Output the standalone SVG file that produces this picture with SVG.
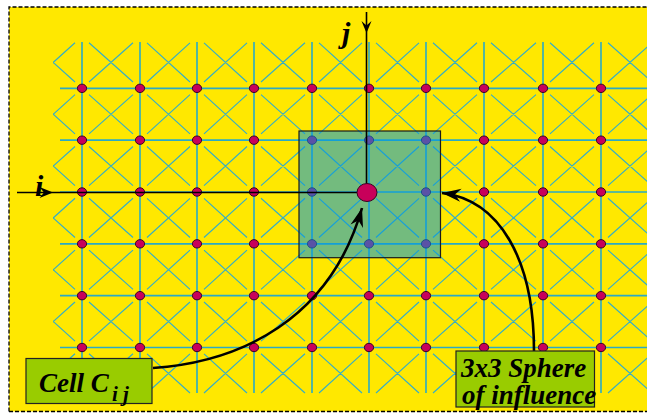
<svg xmlns="http://www.w3.org/2000/svg" width="647" height="415" viewBox="0 0 647 415">
<style>
.grid{stroke:#2BAAC6;stroke-width:1.6;fill:none}
.diag{stroke:#34ADC8;stroke-width:1.15;fill:none}
.dot{fill:#C8005A;stroke:#3A0020;stroke-width:1}
.axis{stroke:#000;stroke-width:1.6;fill:none}
.curve{stroke:#000;stroke-width:2.6;fill:none}
.box{fill:#99CC00;stroke:#222;stroke-width:1.2}
.lbl{font-family:"Liberation Serif","Times New Roman",serif;font-style:italic;font-weight:bold;fill:#000}
</style>
<defs>
<clipPath id="gclip"><rect x="53" y="0" width="600" height="415"/></clipPath>
<path id="xrow" class="diag" d="M31.5 6.3L75 45.5M31.5 45.5L75 6.3M89 6.3L133 45.5M89 45.5L133 6.3M147 6.3L190 45.5M147 45.5L190 6.3M204 6.3L247 45.5M204 45.5L247 6.3M261 6.3L305 45.5M261 45.5L305 6.3M319 6.3L362 45.5M319 45.5L362 6.3M376 6.3L419 45.5M376 45.5L419 6.3M433 6.3L477 45.5M433 45.5L477 6.3M491 6.3L536 45.5M491 45.5L536 6.3M550 6.3L594 45.5M550 45.5L594 6.3M608 6.3L652 45.5M608 45.5L652 6.3"/>
<g id="dotrow">
<ellipse class="dot" cx="82" cy="0" rx="4.6" ry="4.2"/>
<ellipse class="dot" cx="140" cy="0" rx="4.6" ry="4.2"/>
<ellipse class="dot" cx="197" cy="0" rx="4.6" ry="4.2"/>
<ellipse class="dot" cx="254" cy="0" rx="4.6" ry="4.2"/>
<ellipse class="dot" cx="312" cy="0" rx="4.6" ry="4.2"/>
<ellipse class="dot" cx="369" cy="0" rx="4.6" ry="4.2"/>
<ellipse class="dot" cx="426" cy="0" rx="4.6" ry="4.2"/>
<ellipse class="dot" cx="484" cy="0" rx="4.6" ry="4.2"/>
<ellipse class="dot" cx="543" cy="0" rx="4.6" ry="4.2"/>
<ellipse class="dot" cx="601" cy="0" rx="4.6" ry="4.2"/>
</g>
<marker id="ah" viewBox="-20 -8 22 16" refX="0" refY="0" markerWidth="22" markerHeight="16" orient="auto" markerUnits="userSpaceOnUse">
<path d="M0,0 L-19,-6.5 L-13,0 L-19,6.5 Z" fill="#000"/>
</marker>
</defs>
<rect width="647" height="415" fill="#FFFFFF"/>
<rect id="background" x="9" y="7" width="638" height="404.5" fill="#FFE800"/>
<path d="M9,411.5 V7 H647 M9,411.5 H647" stroke="#000" stroke-width="1.3" stroke-dasharray="4 2" fill="none"/>
<g id="grid">
<g clip-path="url(#gclip)">
<use href="#xrow" y="36.5"/>
<use href="#xrow" y="88.33"/>
<use href="#xrow" y="140.17"/>
<use href="#xrow" y="192"/>
<use href="#xrow" y="243.83"/>
<use href="#xrow" y="295.67"/>
<use href="#xrow" y="347.5"/>
</g>
<path class="grid" d="M82 42V393M140 42V393M197 42V393M254 42V393M312 42V393M369 42V393M426 42V393M484 42V393M543 42V393M601 42V393"/>
<path class="grid" d="M60 88.33H647M60 140.17H647M60 192H647M60 243.83H647M60 295.67H647M60 347.5H647"/>
</g>
<g id="cells">
<use href="#dotrow" y="88.33"/>
<use href="#dotrow" y="140.17"/>
<use href="#dotrow" y="192"/>
<use href="#dotrow" y="243.83"/>
<use href="#dotrow" y="295.67"/>
<use href="#dotrow" y="347.5"/>
</g>
<g id="sphere">
<rect x="299" y="131" width="141.5" height="126.7" fill="#0096E6" fill-opacity="0.55" stroke="#1A1A1A" stroke-width="1.2"/>
</g>
<g id="axes">
<path class="axis" d="M366.5 12V183.5"/>
<path class="axis" d="M17 192.5H357"/>
<path d="M366.5 33L361.5 21L366.5 25.5L371.5 21Z" fill="#000"/>
<path d="M53 192.5L39.5 187L44 192.5L39.5 198Z" fill="#000"/>
<text class="lbl" x="342" y="43" font-size="30">j</text>
<text class="lbl" x="35" y="196" font-size="30">i</text>
</g>
<g id="center-cell">
<ellipse cx="367" cy="192.5" rx="10" ry="9" fill="#C8005A" stroke="#3A0020" stroke-width="1"/>
</g>
<g id="connectors">
<path class="curve" d="M153,368 C240,362 330,320 362,208" marker-end="url(#ah)"/>
<path class="curve" d="M534,351 C534,260 500,200 442,193" marker-end="url(#ah)"/>
</g>
<g id="label-cell">
<rect class="box" x="26" y="358.5" width="126" height="45"/>
<text class="lbl" x="39" y="391.5" font-size="27">Cell C<tspan x="112" y="401" font-size="21">i j</tspan></text>
</g>
<g id="label-sphere">
<rect class="box" x="456" y="351" width="138.5" height="56"/>
<text class="lbl" x="461" y="377" font-size="27">3x3 Sphere</text>
<text class="lbl" x="462" y="404" font-size="27">of influence</text>
</g>
</svg>
